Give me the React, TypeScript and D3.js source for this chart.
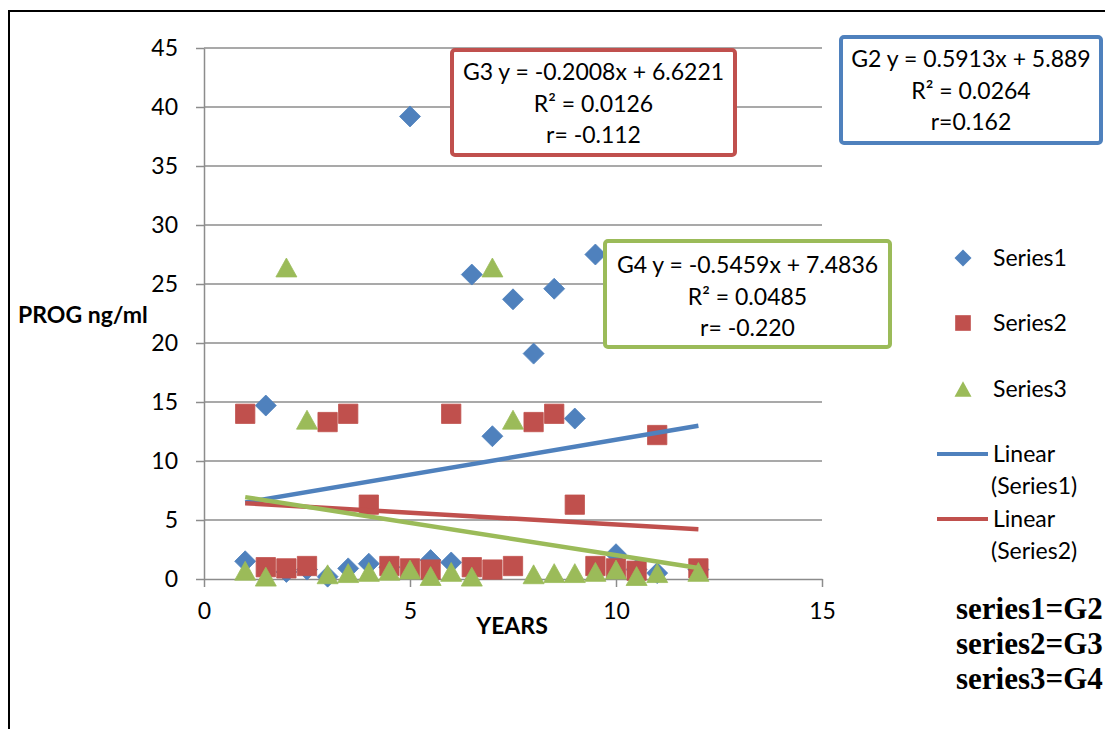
import React, { useRef, useEffect } from 'react';
import * as d3 from 'd3';

// years on the x axis (shared by all three groups)
const years = [1, 1.5, 2, 2.5, 3, 3.5, 4, 4.5, 5, 5.5, 6, 6.5, 7, 7.5, 8, 8.5, 9, 9.5, 10, 10.5, 11, 12];

// PROG ng/ml values
const series1 = [1.5, 14.7, 0.6, 0.8, 0.2, 0.9, 1.3, 1.0, 39.2, 1.6, 1.4, 25.8, 12.1, 23.7, 19.1, 24.6, 13.6, 27.5, 2.1, 0.8, 0.5, 0.8];
const series2 = [14.0, 1.0, 0.9, 1.1, 13.3, 14.0, 6.3, 1.1, 0.9, 0.8, 14.0, 1.0, 0.8, 1.1, 13.3, 14.0, 6.3, 1.1, 0.9, 0.7, 12.2, 0.9];
const series3 = [0.7, 0.2, 26.4, 13.5, 0.4, 0.5, 0.6, 0.7, 0.8, 0.25, 0.6, 0.2, 26.4, 13.5, 0.4, 0.5, 0.5, 0.6, 0.8, 0.25, 0.5, 0.6];

// linear trend coefficients (slope, intercept)
const slopes = [0.5913, -0.2008, -0.5459];
const intercepts = [5.889, 6.6221, 7.4836];

const seriesNames = ['Series1', 'Series2', 'Series3'];
const colors = ['#4F81BD', '#C0504D', '#9BBB59'];

const yTicks = [0, 5, 10, 15, 20, 25, 30, 35, 40, 45];
const xTicks = [0, 5, 10, 15];

// equation boxes
const boxLines = [
  ['G2 y = 0.5913x + 5.889', 'R² = 0.0264', 'r=0.162'],
  ['G3 y = -0.2008x + 6.6221', 'R² = 0.0126', 'r= -0.112'],
  ['G4 y = -0.5459x + 7.4836', 'R² = 0.0485', 'r= -0.220'],
];
const groupNotes = ['series1=G2', 'series2=G3', 'series3=G4'];

const W = 1105;
const H = 729;
const FONT = 'Lato, "Open Sans", sans-serif';

const markerPath = (kind: number, s: number) => {
  const h = s / 2;
  if (kind === 0) return `M0,${-h}L${h},0L0,${h}L${-h},0Z`;
  if (kind === 1) return `M${-h * 0.92},${-h * 0.92}H${h * 0.92}V${h * 0.92}H${-h * 0.92}Z`;
  return `M0,${-h * 0.9}L${h},${h * 0.9}L${-h},${h * 0.9}Z`;
};

const App = () => {
  const ref = useRef<SVGSVGElement>(null);

  useEffect(() => {
    const svg = d3.select(ref.current);
    svg.selectAll('*').remove();

    const x = d3.scaleLinear().domain([0, 15]).range([204, 822]);
    const y = d3.scaleLinear().domain([0, 45]).range([579, 48]);

    // outer frame (left and top edges only visible)
    svg.append('path')
      .attr('d', `M9,${H}V11H${W}`)
      .attr('fill', 'none')
      .attr('stroke', '#000')
      .attr('stroke-width', 2);

    // gridlines
    svg.append('g')
      .selectAll('line')
      .data(yTicks.filter(d => d > 0))
      .enter()
      .append('line')
      .attr('x1', x(0))
      .attr('x2', x(15))
      .attr('y1', d => y(d))
      .attr('y2', d => y(d))
      .attr('stroke', '#8c8c8c')
      .attr('stroke-width', 1.5);

    // y axis
    const yAxis = d3.axisLeft(y).tickValues(yTicks).tickSize(8).tickPadding(18).tickSizeOuter(0);
    const gy = svg.append('g').attr('transform', `translate(${x(0)},0)`).call(yAxis);
    gy.select('.domain').attr('stroke', '#8c8c8c').attr('stroke-width', 1.5);
    gy.selectAll('line').attr('stroke', '#8c8c8c').attr('stroke-width', 1.5);
    gy.selectAll('text')
      .attr('font-family', FONT)
      .attr('font-size', 23)
      .attr('fill', '#000');

    // x axis
    const xAxis = d3.axisBottom(x).tickValues(xTicks).tickSize(8).tickPadding(16).tickSizeOuter(0);
    const gx = svg.append('g').attr('transform', `translate(0,${y(0)})`).call(xAxis);
    gx.select('.domain').attr('stroke', '#8c8c8c').attr('stroke-width', 1.5);
    gx.selectAll('line').attr('stroke', '#8c8c8c').attr('stroke-width', 1.5);
    gx.selectAll('text')
      .attr('font-family', FONT)
      .attr('font-size', 23)
      .attr('fill', '#000');

    // axis titles
    svg.append('text')
      .attr('x', 18)
      .attr('y', 323)
      .attr('font-family', FONT)
      .attr('font-weight', 'bold')
      .attr('font-size', 23)
      .text('PROG ng/ml');

    svg.append('text')
      .attr('x', 512)
      .attr('y', 634)
      .attr('text-anchor', 'middle')
      .attr('font-family', FONT)
      .attr('font-weight', 'bold')
      .attr('font-size', 23)
      .text('YEARS');

    // markers
    const allSeries = [series1, series2, series3];
    allSeries.forEach((vals, si) => {
      svg.append('g')
        .selectAll('path')
        .data(vals)
        .enter()
        .append('path')
        .attr('d', markerPath(si, 21))
        .attr('transform', (d, i) => `translate(${x(years[i])},${y(d)})`)
        .attr('fill', colors[si])
        .attr('stroke', colors[si])
        .attr('stroke-width', 0.8);
    });

    // trend lines
    slopes.forEach((m, si) => {
      const ends = [d3.min(years) as number, d3.max(years) as number];
      svg.append('path')
        .datum(ends)
        .attr('d', d3.line<number>().x(d => x(d)).y(d => y(m * d + intercepts[si])))
        .attr('fill', 'none')
        .attr('stroke', colors[si])
        .attr('stroke-width', 4.5);
    });

    // equation boxes
    const boxes = [
      { x: 841, y: 37, w: 260, h: 106, base: 67 },
      { x: 452, y: 50, w: 283, h: 105, base: 80 },
      { x: 605, y: 241, w: 285, h: 106, base: 273 },
    ];
    boxes.forEach((b, i) => {
      svg.append('rect')
        .attr('x', b.x)
        .attr('y', b.y)
        .attr('width', b.w)
        .attr('height', b.h)
        .attr('rx', 3)
        .attr('fill', '#fff')
        .attr('stroke', colors[i])
        .attr('stroke-width', 4);
      boxLines[i].forEach((t, j) => {
        svg.append('text')
          .attr('x', b.x + b.w / 2)
          .attr('y', b.base + j * 31.5)
          .attr('text-anchor', 'middle')
          .attr('font-family', FONT)
          .attr('font-size', 23)
          .text(t);
      });
    });

    // legend
    const legendY = [258, 323, 389];
    seriesNames.forEach((name, i) => {
      svg.append('path')
        .attr('d', markerPath(i, 17))
        .attr('transform', `translate(963,${legendY[i]})`)
        .attr('fill', colors[i]);
      svg.append('text')
        .attr('x', 993)
        .attr('y', legendY[i] + 8)
        .attr('font-family', FONT)
        .attr('font-size', 23)
        .text(name);
    });
    [0, 1].forEach(i => {
      const ly = 454 + i * 65;
      svg.append('line')
        .attr('x1', 937)
        .attr('x2', 988)
        .attr('y1', ly)
        .attr('y2', ly)
        .attr('stroke', colors[i])
        .attr('stroke-width', 4);
      svg.append('text')
        .attr('x', 993)
        .attr('y', ly + 8)
        .attr('font-family', FONT)
        .attr('font-size', 23)
        .text('Linear');
      svg.append('text')
        .attr('x', 991)
        .attr('y', ly + 40)
        .attr('font-family', FONT)
        .attr('font-size', 23)
        .text(`(${seriesNames[i]})`);
    });

    // group notes
    groupNotes.forEach((t, i) => {
      svg.append('text')
        .attr('x', 956)
        .attr('y', 619 + i * 35)
        .attr('font-family', '"Liberation Serif", "Times New Roman", serif')
        .attr('font-weight', 'bold')
        .attr('font-size', 31)
        .text(t);
    });
  }, []);

  return (
    <svg
      ref={ref}
      width={W}
      height={H}
      style={{ position: 'absolute', left: 0, top: 0, background: '#fff' }}
    />
  );
};

export default App;
